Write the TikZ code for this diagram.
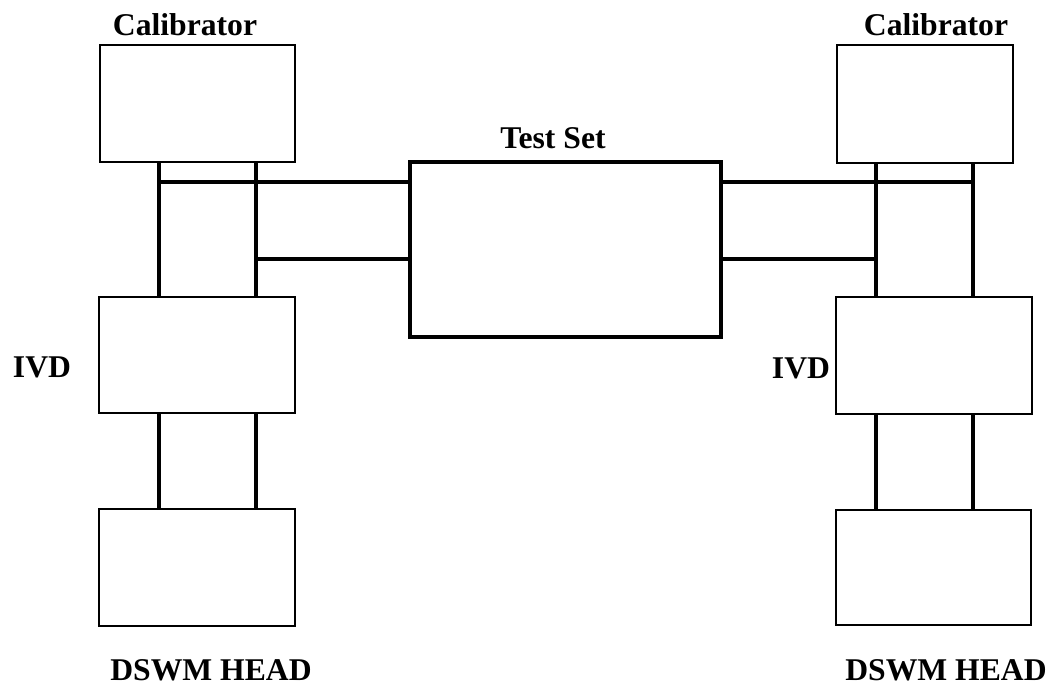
\documentclass[tikz,border=0pt]{standalone}
\usepackage{fontspec}
\setmainfont{Liberation Serif}
\usepackage{tikz}

\tikzset{
  unit/.style={draw, line width=0.6pt, inner sep=0pt, outer sep=0pt},
  wire/.style={line width=1.1pt},
  lbl/.style={inner sep=0pt, font=\fontsize{9}{10}\selectfont\bfseries}
}

\begin{document}
\begin{tikzpicture}[x=0.01cm, y=-0.01cm]
	\useasboundingbox (0,0) rectangle (1057,685);
	\node[unit, minimum width=1.95cm, minimum height=1.17cm] (calL) at (197.5,103.5) {};
	\node[unit, minimum width=1.76cm, minimum height=1.18cm] (calR) at (925,104) {};
	\node[unit, line width=1.1pt, minimum width=3.11cm, minimum height=1.75cm] (test) at (565.5,249.5) {};
	\node[unit, minimum width=1.96cm, minimum height=1.16cm] (ivdL) at (197,355) {};
	\node[unit, minimum width=1.96cm, minimum height=1.17cm] (ivdR) at (934,355.5) {};
	\node[unit, minimum width=1.96cm, minimum height=1.17cm] (dswL) at (197,567.5) {};
	\node[unit, minimum width=1.95cm, minimum height=1.15cm] (dswR) at (933.5,567.5) {};

	\node[lbl] (calLtxt) at (185,25) {Calibrator};
	\node[lbl] (calRtxt) at (936,25) {Calibrator};
	\node[lbl] (testtxt) at (553,138) {Test Set};
	\node[lbl] (ivdLtxt) at (42,367) {IVD};
	\node[lbl] (ivdRtxt) at (801,368) {IVD};
	\node[lbl] (dswLtxt) at (211,670) {DSWM HEAD};
	\node[lbl] (dswRtxt) at (946,670) {DSWM HEAD};

	\coordinate (la) at (159,0);
	\coordinate (lb) at (256,0);
	\coordinate (ra) at (876,0);
	\coordinate (rb) at (973,0);
	\coordinate (hi) at (0,182);
	\coordinate (lo) at (0,259);

	\draw[wire] (calL.south -| la) -- (ivdL.north -| la);
	\draw[wire] (calL.south -| lb) -- (ivdL.north -| lb);
	\draw[wire] (ivdL.south -| la) -- (dswL.north -| la);
	\draw[wire] (ivdL.south -| lb) -- (dswL.north -| lb);
	\draw[wire] (la |- hi) -- (test.west |- hi);
	\draw[wire] (lb |- lo) -- (test.west |- lo);

	\draw[wire] (calR.south -| ra) -- (ivdR.north -| ra);
	\draw[wire] (calR.south -| rb) -- (ivdR.north -| rb);
	\draw[wire] (ivdR.south -| ra) -- (dswR.north -| ra);
	\draw[wire] (ivdR.south -| rb) -- (dswR.north -| rb);
	\draw[wire] (test.east |- hi) -- (rb |- hi);
	\draw[wire] (test.east |- lo) -- (ra |- lo);
\end{tikzpicture}
\end{document}
